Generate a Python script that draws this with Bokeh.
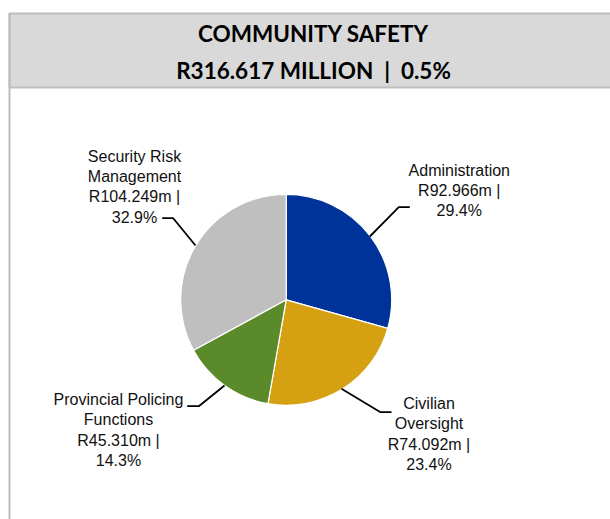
import math
from bokeh.plotting import figure
from bokeh.models import Range1d
from bokeh.core.properties import value
from bokeh.embed import file_html
from bokeh.resources import INLINE

# ---- data ----
title_line1 = "COMMUNITY SAFETY"
title_line2 = "R316.617 MILLION\u00a0\u00a0|\u00a0\u00a00.5%"
categories = ["Administration", "Civilian\nOversight", "Provincial Policing\nFunctions", "Security Risk\nManagement"]
values = [92.966, 74.092, 45.310, 104.249]
percents = [29.4, 23.4, 14.3, 32.9]
colors = ["#003399", "#D6A013", "#5B8A2B", "#BFBFBF"]

W, H = 610, 519
p = figure(width=W, height=H, x_range=Range1d(-8, 602), y_range=Range1d(-8, 511),
           output_backend="svg", toolbar_location=None, min_border=0)
p.axis.visible = False
p.grid.visible = False
p.outline_line_color = None
p.background_fill_color = "white"

# frame + title box
p.quad(left=[1], right=[606], top=[498], bottom=[424], fill_color="#D9D9D9",
       line_color="#BEBEBE", line_width=2)
p.segment(x0=[1], y0=[498], x1=[1], y1=[-12], line_color="#BEBEBE", line_width=2)

p.text(x=[305, 305], y=[478, 441], text=[title_line1, title_line2],
       text_font=value("Lato"), text_font_style="bold", text_font_size="22.5px",
       text_align="center", text_baseline="middle", text_color="#000000")

# pie
cx, cy, r = 277.7, 211.7, 105.5
total = sum(values)
starts, ends = [], []
cum = 0.0
for v in values:
    a0 = math.pi / 2 - 2 * math.pi * cum / total
    cum += v
    a1 = math.pi / 2 - 2 * math.pi * cum / total
    starts.append(a1)
    ends.append(a0)
p.wedge(x=[cx] * 4, y=[cy] * 4, radius=r, start_angle=starts, end_angle=ends,
        fill_color=colors, line_color="white", line_width=1.2)

# labels
labels = [f"{c}\nR{v:.3f}m |\n{pc:.1f}%" for c, v, pc in zip(categories, values, percents)]
lx = [450.8, 420.5, 110, 126]
ly = [350, 116.6, 120.6, 364]
p.text(x=lx, y=ly, text=labels, text_font=value("Liberation Sans"), text_font_size="16px",
       text_align="center", text_baseline="top", text_color="#111111", text_line_height=1.2)

# leader lines
xs = [[401.3, 390.3, 361.3], [383, 372, 333], [178.7, 190.3, 216], [153.7, 164.7, 187]]
ys = [[304.3, 304.3, 275], [99.3, 99.3, 122.7], [105.3, 105.3, 126], [293.3, 293.3, 266]]
p.multi_line(xs=xs, ys=ys, line_color="black", line_width=1.8)

open("out.html", "w").write(file_html(p, INLINE))
